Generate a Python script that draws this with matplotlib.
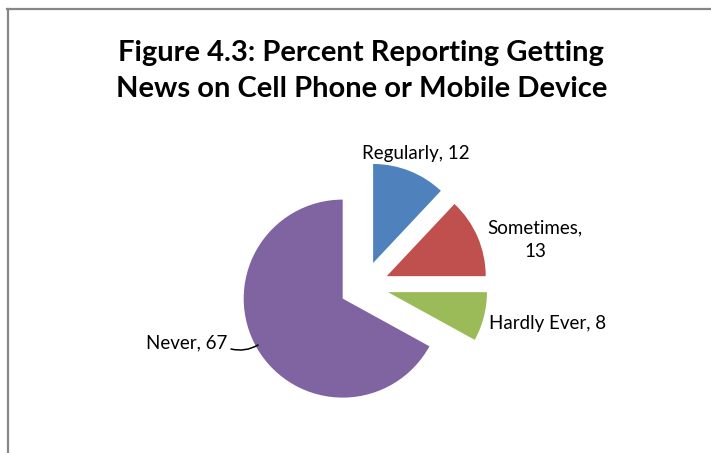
import matplotlib.pyplot as plt
from matplotlib.lines import Line2D

plt.rcParams['font.family'] = ['Lato', 'DejaVu Sans']

# data
categories = ['Regularly', 'Sometimes', 'Hardly Ever', 'Never']
values = [12, 13, 8, 67]
colors = ['#4F81BD', '#C0504D', '#9BBB59', '#8064A2']

W, H = 711, 453
fig = plt.figure(figsize=(W / 100, H / 100), dpi=100)
ax = fig.add_axes([0, 0, 1, 1])

# pie in pixel-like units, y measured from the bottom
cx, cy, r = 364, H - 286, 99
explode = [0.25 * r] * len(values)   # matplotlib explode is in data units here
ax.pie(values, colors=colors, explode=explode, startangle=90, counterclock=False,
       center=(cx, cy), radius=r, frame=False, wedgeprops=dict(linewidth=0))
ax.set_xlim(0, W)
ax.set_ylim(0, H)
ax.set_aspect('equal')
ax.axis('off')

def py(y):
    return H - y

fs = 13.5
ax.text(416, py(153), f'{categories[0]}, {values[0]}', ha='center', va='center', fontsize=fs)
ax.text(535, py(240), f'{categories[1]},\n{values[1]}', ha='center', va='center',
        fontsize=fs, linespacing=1.45)
ax.text(489, py(323), f'{categories[2]}, {values[2]}', ha='left', va='center', fontsize=fs)
ax.text(227, py(343), f'{categories[3]}, {values[3]}', ha='right', va='center', fontsize=fs)
ax.annotate('', xy=(258, py(345)), xytext=(231, py(349)),
            arrowprops=dict(arrowstyle='-', color='black', lw=1.1,
                            connectionstyle='arc3,rad=0.2', shrinkA=0, shrinkB=0))

# title
fig.text(0.508, 1 - 71 / H, 'Figure 4.3: Percent Reporting Getting\nNews on Cell Phone or Mobile Device',
         ha='center', va='center', fontsize=21, fontweight='bold', linespacing=1.45)

# chart area border (top and left only visible)
fig.add_artist(Line2D([7 / W, 1], [1 - 8.5 / H, 1 - 8.5 / H], color='#868686', lw=1.6,
                      transform=fig.transFigure))
fig.add_artist(Line2D([7.5 / W, 7.5 / W], [0, 1 - 8.5 / H], color='#868686', lw=1.6,
                      transform=fig.transFigure))

fig.savefig('out.png', dpi=100, facecolor='white')
